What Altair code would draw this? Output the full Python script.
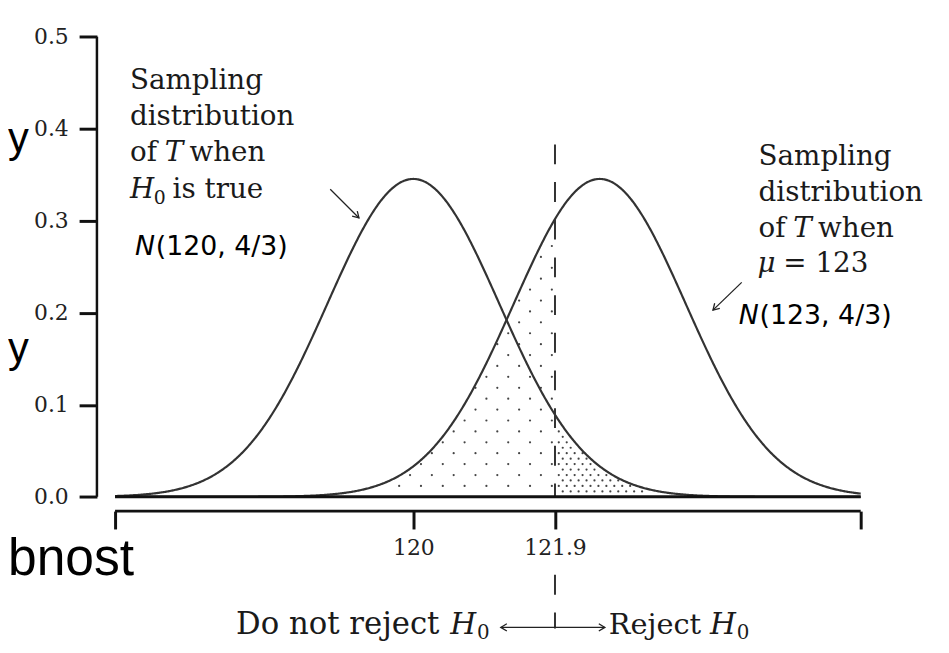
import numpy as np
import pandas as pd
import altair as alt

# ---------------- values ----------------
h0_mean = 120.0            # centre of the left curve
alt_mean = 122.5           # centre of the right curve as drawn
variance = 4.0 / 3.0
critical = 121.9
x_range = [116.0, 126.0]
y_tick_values = [0.0, 0.1, 0.2, 0.3, 0.4, 0.5]
x_tick_values = [116.0, 120.0, 121.9, 126.0]
x_tick_text = ["", "120", "121.9", ""]
dash_top = 0.383

# ---------------- layout (page pixels -> data units) ----------------
W, H = 941, 637
PAGE = 8.0
PX_X116, PX_PER_X = 116.0, 75.2
PX_Y0, PX_PER_Y = 498.3, 928.0


def dx(px):
    return x_range[0] + (px - PX_X116) / PX_PER_X


def dy(py):
    return (PX_Y0 - py) / PX_PER_Y


xscale = alt.Scale(domain=[dx(PAGE), dx(PAGE + W)], nice=False, zero=False)
yscale = alt.Scale(domain=[dy(PAGE + H), dy(PAGE)], nice=False, zero=False)

label_expr = "''"
for v, t in reversed(list(zip(x_tick_values, x_tick_text))):
    label_expr = f"datum.value == {v} ? '{t}' : ({label_expr})"

x_axis = alt.Axis(values=x_tick_values, labelExpr=label_expr, domain=False, grid=False,
                  tickSize=18, tickWidth=3, tickColor="#111", labelFont="DejaVu Serif",
                  labelFontSize=22, labelColor="#222", labelPadding=9, labelOverlap=False,
                  offset=-(PAGE + H - 512.7), title=None)
y_axis = alt.Axis(values=y_tick_values, format=".1f", domain=False, grid=False,
                  tickSize=18, tickWidth=3, tickColor="#111", labelFont="DejaVu Serif",
                  labelFontSize=22, labelColor="#222", labelPadding=11,
                  offset=-(97.7 - PAGE), title=None)


def X(f="x"):
    return alt.X(f + ":Q", scale=xscale, axis=x_axis)


def Y(f="y"):
    return alt.Y(f + ":Q", scale=yscale, axis=y_axis)


sd = np.sqrt(variance)


def pdf(x, m):
    return np.exp(-0.5 * ((x - m) / sd) ** 2) / (sd * np.sqrt(2 * np.pi))


xs = np.linspace(x_range[0], x_range[1], 801)
curves = pd.concat([
    pd.DataFrame({"x": xs, "y": pdf(xs, h0_mean), "c": "h0"}),
    pd.DataFrame({"x": xs, "y": pdf(xs, alt_mean), "c": "h1"}),
])

# dotted textures (beta region sparse, alpha region dense)
dots = []
for j in range(1, 45):
    py = PX_Y0 - 11.0 * j
    start = 556.5 - 11.0 * ((j + 1) % 2)
    for m in range(0, 40):
        px = start - 22.0 * m
        xv, yv = dx(px), dy(py)
        if xv >= x_range[0] and xv < critical and yv < pdf(xv, alt_mean) - 2.5 / PX_PER_Y:
            dots.append((xv, yv))
for j in range(1, 40):
    py = PX_Y0 - 5.5 * j
    start = 563.5 + 4.0 * (j % 2)
    for m in range(0, 40):
        px = start + 8.0 * m
        xv, yv = dx(px), dy(py)
        if xv > critical and xv <= x_range[1] and yv < pdf(xv, h0_mean) - 2.0 / PX_PER_Y:
            dots.append((xv, yv))
dots_df = pd.DataFrame(dots, columns=["x", "y"])

dot_layer = alt.Chart(dots_df).mark_circle(size=5, color="#444", opacity=1).encode(x=X(), y=Y())

curve_layer = alt.Chart(curves).mark_line(color="#333", strokeWidth=2.2).encode(
    x=X(), y=Y(), detail="c:N")

dash_df = pd.DataFrame({"x": [critical, critical], "y": [dash_top, dy(577)], "y2": [0.0, dy(631)]})
dash_layer = alt.Chart(dash_df).mark_rule(color="#333", strokeWidth=2, strokeDash=[20, 18]).encode(
    x=X(), y=Y(), y2="y2:Q")

hrules = pd.DataFrame({"x": [x_range[0], x_range[0]], "x2": [x_range[1], x_range[1]],
                       "y": [0.0, dy(512.7)]})
hrule_layer = alt.Chart(hrules).mark_rule(color="#111", strokeWidth=3).encode(
    x=X(), x2="x2:Q", y=Y())

yaxis_line = pd.DataFrame({"x": [dx(97.7)], "y": [y_tick_values[0]], "y2": [y_tick_values[-1]]})
yaxis_layer = alt.Chart(yaxis_line).mark_rule(color="#111", strokeWidth=2.5).encode(
    x=X(), y=Y(), y2="y2:Q")

# arrows
arrow_lines = pd.DataFrame({
    "x": [dx(333), dx(748), dx(560), dx(560)],
    "y": [dy(188), dy(282), dy(630), dy(630)],
    "x2": [dx(362), dx(719), dx(505), dx(610)],
    "y2": [dy(217), dy(310), dy(630), dy(630)],
})
arrow_line_layer = alt.Chart(arrow_lines).mark_rule(color="#222", strokeWidth=1.3).encode(
    x=X(), y=Y(), x2="x2:Q", y2="y2:Q")
heads = pd.DataFrame({
    "x": [dx(362), dx(719), dx(505), dx(610)],
    "y": [dy(217), dy(310), dy(630), dy(630)],
    "a": [45, 135, 180, 0],
})
head_layer = alt.Chart(heads).mark_point(
    shape="M-1,-0.6L0,0L-1,0.6", filled=False, size=150, strokeWidth=1.3, color="#222", opacity=1
).encode(x=X(), y=Y(), angle=alt.Angle("a:Q", scale=None))

# text pieces: (text, page x, page baseline y, size)
serif_up = [
    ("Sampling", 131, 87, 28), ("distribution", 131, 123, 28), ("of", 131, 160, 28),
    ("when", 191, 160, 28), ("is true", 174, 197, 28), ("0", 155, 203, 19),
    ("Sampling", 765, 164, 28), ("distribution", 765, 200, 28), ("of", 765, 236, 28),
    ("when", 825, 236, 28), ("= 123", 790, 272, 28),
    ("Do not reject", 238, 637, 31), ("0", 481, 642, 20),
    ("Reject", 614, 637, 29), ("0", 743, 642, 20),
]
serif_it = [
    ("T", 166, 160, 28), ("H", 454, 637, 30)
] + [
    ("H", 131, 197, 28), ("T", 800, 236, 28), ("μ", 764, 272, 28), ("H", 716, 637, 30),
]
sans_up = [("(120, 4/3)", 157, 254, 27), ("(123, 4/3)", 766, 324, 27)]
sans_it = [("N", 136, 254, 27), ("N", 745, 324, 27)]
slide = [("y", 8, 151, 42), ("y", 8, 362, 42), ("bnost", 8, 577, 52)]


def tdf(rows):
    return pd.DataFrame({"t": [r[0] for r in rows], "x": [dx(r[1]) for r in rows],
                         "y": [dy(r[2]) for r in rows], "s": [r[3] for r in rows]})


def text_layer(rows, font, style="normal", color="#1a1a1a", align="left"):
    return alt.Chart(tdf(rows)).mark_text(font=font, fontStyle=style, color=color, align=align,
                                          baseline="alphabetic").encode(
        x=X(), y=Y(), text="t:N", size=alt.Size("s:Q", scale=None, legend=None))


texts = [
    text_layer(serif_up, "DejaVu Serif"),
    text_layer(serif_it, "DejaVu Serif", "italic"),
    text_layer(sans_up, "DejaVu Sans", color="#000"),
    text_layer(sans_it, "DejaVu Sans", "italic", color="#000"),
    text_layer(slide, "Liberation Sans", color="#000"),
]

chart = alt.layer(
    dot_layer, curve_layer, dash_layer, hrule_layer, yaxis_layer,
    arrow_line_layer, head_layer, *texts
).properties(
    width=W, height=H, autosize=alt.AutoSizeParams(type="none"), padding=0, background="white"
).configure_view(strokeWidth=0, fill="white")

chart.save("out.html", embed_options={"renderer": "svg", "actions": False})
